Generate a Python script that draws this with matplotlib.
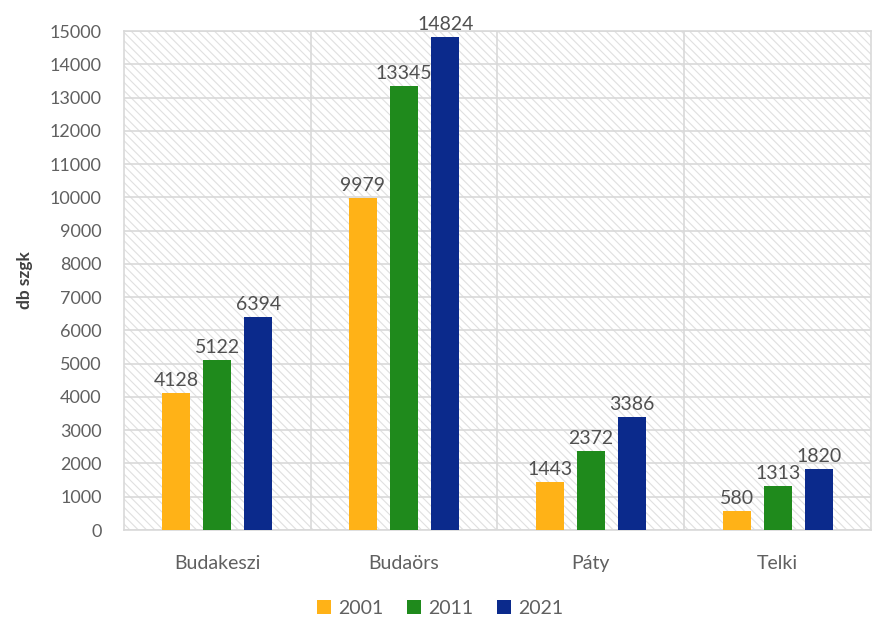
import matplotlib.pyplot as plt
import numpy as np
from matplotlib.patches import Rectangle

plt.rcParams['font.family'] = ['Lato', 'DejaVu Sans']
plt.rcParams['hatch.linewidth'] = 0.8

# adatok
telepulesek = ['Budakeszi', 'Budaörs', 'Páty', 'Telki']
evek = ['2001', '2011', '2021']
db_2001 = [4128, 9979, 1443, 580]
db_2011 = [5122, 13345, 2372, 1313]
db_2021 = [6394, 14824, 3386, 1820]
szinek = ['#ffb217', '#1f8a1c', '#0b2a8c']

fig = plt.figure(figsize=(8.72, 6.21), dpi=100, facecolor='white')
ax = fig.add_axes([0.142, 0.1465, 0.857, 0.8035])

# sraffozott háttér
ax.add_patch(Rectangle((0, 0), 1, 1, transform=ax.transAxes, facecolor='white',
                       edgecolor='#e0e0e0', hatch='\\\\\\\\', linewidth=0, zorder=0))

x = np.arange(len(telepulesek))
szel = 0.15
eltol = 0.22
for i, (ev, adat) in enumerate(zip(evek, [db_2001, db_2011, db_2021])):
    pos = x + (i - 1) * eltol
    ax.bar(pos, adat, width=szel, color=szinek[i], label=ev, zorder=3)
    for xp, v in zip(pos, adat):
        ax.text(xp, v + 120, str(v), ha='center', va='bottom', fontsize=14,
                color='#505050', zorder=4)

ax.set_xlim(-0.5, 3.5)
ax.set_ylim(0, 15000)
ax.set_yticks(np.arange(0, 15001, 1000))
ax.set_xticks(x)
ax.set_xticklabels(telepulesek)
ax.tick_params(axis='y', length=0, pad=16, labelsize=13, labelcolor='#606060')
ax.tick_params(axis='x', length=0, pad=18, labelsize=14, labelcolor='#606060')

# rácsvonalak
ax.grid(axis='y', color='#d9d9d9', linewidth=1.2, zorder=1)
for b in [0.5, 1.5, 2.5]:
    ax.axvline(b, color='#d9d9d9', linewidth=1.2, zorder=1)
for s in ax.spines.values():
    s.set_color('#d9d9d9')
    s.set_linewidth(1.2)
ax.set_axisbelow(True)

ax.set_ylabel('db szgk', fontsize=12.5, fontweight='bold', color='#404040', labelpad=12)

fig.legend(loc='center', bbox_to_anchor=(0.505, 0.02), ncol=3, frameon=False,
           fontsize=14, labelcolor='#606060', handlelength=0.7, handleheight=0.7,
           handletextpad=0.4, columnspacing=1.2)

plt.savefig('out.png', dpi=100)
